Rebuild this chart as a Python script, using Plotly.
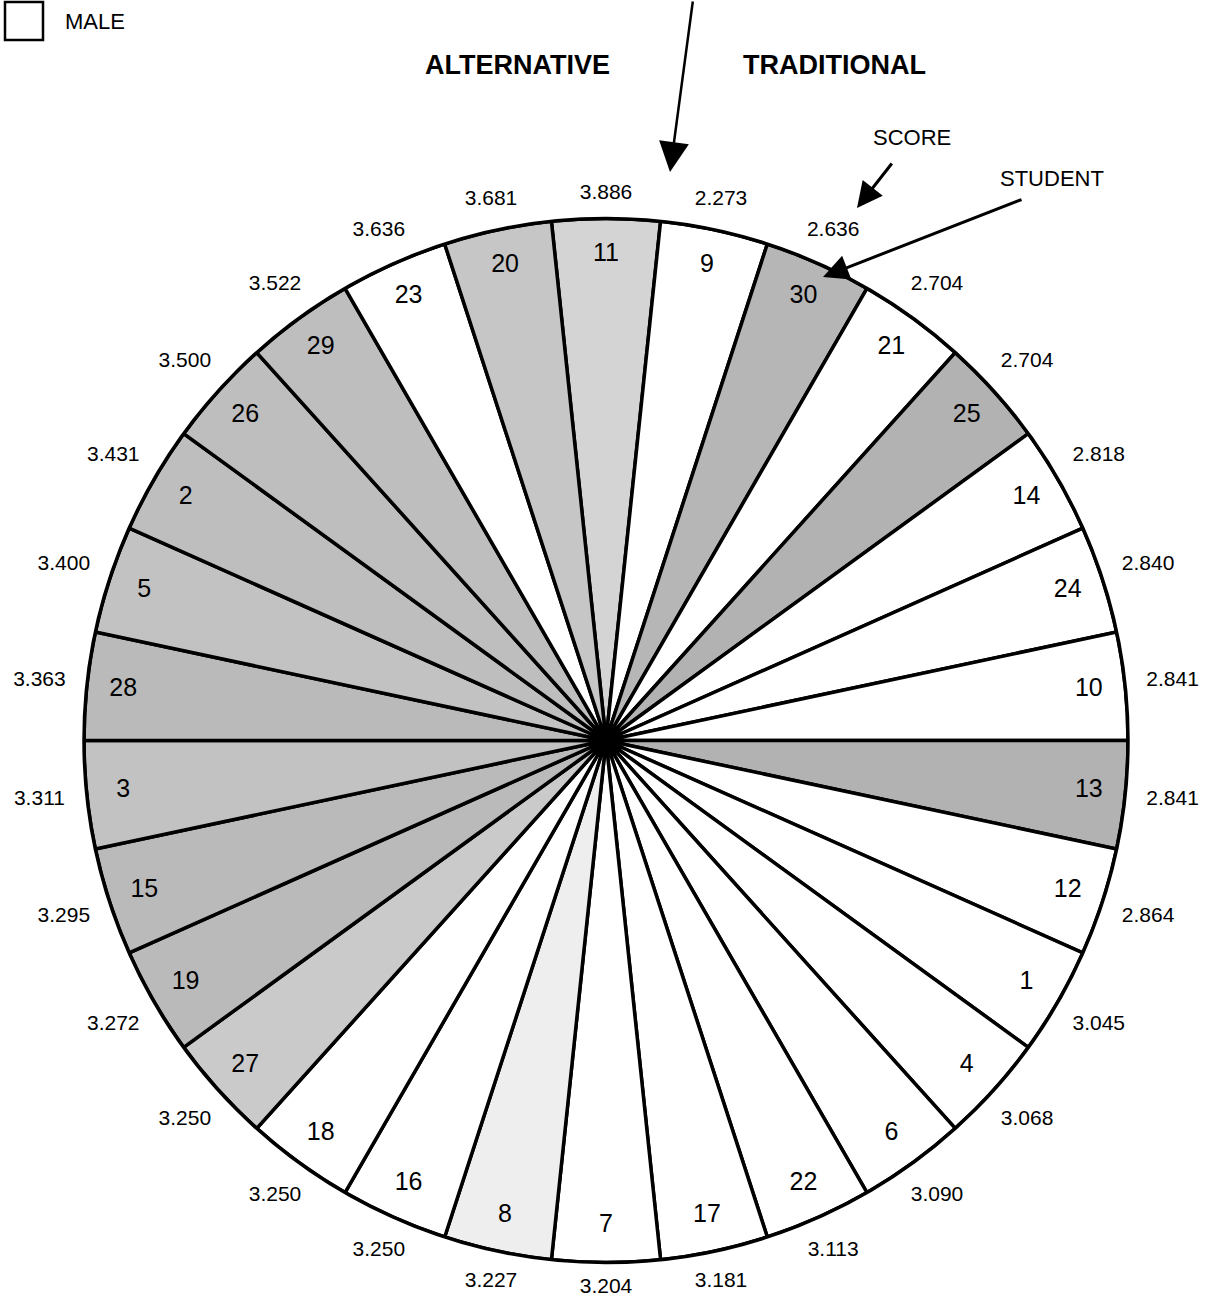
import numpy as np
import plotly.graph_objects as go

# ---- data (clockwise from the top) ----
students = [11, 9, 30, 21, 25, 14, 24, 10, 13, 12, 1, 4, 6, 22, 17,
            7, 8, 16, 18, 27, 19, 15, 3, 28, 5, 2, 26, 29, 23, 20]
scores = [3.886, 2.273, 2.636, 2.704, 2.704, 2.818, 2.840, 2.841, 2.841, 2.864,
          3.045, 3.068, 3.090, 3.113, 3.181, 3.204, 3.227, 3.250, 3.250, 3.250,
          3.272, 3.295, 3.311, 3.363, 3.400, 3.431, 3.500, 3.522, 3.636, 3.681]
gender = ["F", "M", "F", "M", "F", "M", "M", "M", "F", "M",
          "M", "M", "M", "M", "M", "M", "F", "M", "M", "F",
          "F", "F", "F", "F", "F", "F", "F", "F", "M", "F"]

# ---- style ----
W, H = 1215, 1306
FONT = "Liberation Sans, Arial, Helvetica, sans-serif"
# stipple density of each female wedge as it appears in the scan
shade = {11: "#d4d4d4", 20: "#c6c6c6", 30: "#b6b6b6", 25: "#b2b2b2", 13: "#b2b2b2",
         29: "#bebebe", 26: "#bebebe", 2: "#bebebe", 5: "#c2c2c2", 28: "#bababa",
         3: "#c2c2c2", 15: "#bababa", 19: "#bababa", 27: "#cacaca", 8: "#eeeeee"}
colors = [shade.get(s, "#c0c0c0") if g == "F" else "white" for s, g in zip(students, gender)]

cx, cy, R = 606, 740.5, 522  # circle centre / radius in pixels
dom_x = [(cx - R) / W, (cx + R) / W]
dom_y = [(H - cy - R) / H, (H - cy + R) / H]

n = len(students)
step = 360 / n
theta = [i * step for i in range(n)]

fig = go.Figure()
fig.add_trace(go.Barpolar(
    r=[1] * n, theta=theta, width=[step] * n,
    marker=dict(color=colors, line=dict(color="black", width=3.5)),
    hoverinfo="skip", showlegend=False,
))

# hub
fig.add_trace(go.Scatterpolar(
    r=[0], theta=[0], mode="markers",
    marker=dict(size=20, color="black"), hoverinfo="skip", showlegend=False,
))

# student numbers inside the wedges
fig.add_trace(go.Scatterpolar(
    r=[0.93] * n, theta=theta, mode="text",
    text=[str(s) for s in students],
    textfont=dict(family=FONT, size=25, color="black"),
    hoverinfo="skip", showlegend=False, cliponaxis=False,
))

# scores outside the circle (on an overlay cartesian frame, same scale: 1 unit = R px)
th = np.radians(theta)
r_lab = 1 + (17 + 30 * np.abs(np.sin(th)) + 8 * np.abs(np.cos(th))) / R
fig.add_trace(go.Scatter(
    x=r_lab * np.sin(th), y=r_lab * np.cos(th), mode="text",
    text=[f"{s:.3f}" for s in scores],
    textfont=dict(family=FONT, size=21, color="black"),
    hoverinfo="skip", showlegend=False, cliponaxis=False,
))

fig.update_layout(
    width=W, height=H,
    margin=dict(l=0, r=0, t=0, b=0),
    paper_bgcolor="white", plot_bgcolor="rgba(0,0,0,0)",
    xaxis=dict(domain=[0, 1], range=[-cx / R, (W - cx) / R], visible=False, fixedrange=True),
    yaxis=dict(domain=[0, 1], range=[-(H - cy) / R, cy / R], visible=False, fixedrange=True),
    polar=dict(
        domain=dict(x=dom_x, y=dom_y),
        bgcolor="white",
        radialaxis=dict(range=[0, 1], visible=False),
        angularaxis=dict(direction="clockwise", rotation=90, showgrid=False,
                         showticklabels=False, ticks="", showline=True,
                         linecolor="black", linewidth=3.5),
    ),
    font=dict(family=FONT, color="black"),
)


def px(x, y):
    return x / W, 1 - y / H


annots = []
# headings
for txt, (x, y) in [("ALTERNATIVE", (517, 65)), ("TRADITIONAL", (834, 65))]:
    ax_, ay_ = px(x, y)
    annots.append(dict(x=ax_, y=ay_, xref="paper", yref="paper", text=f"<b>{txt}</b>",
                       xanchor="center", yanchor="middle",
                       showarrow=False, font=dict(size=27, family=FONT)))
for txt, (x, y) in [("SCORE", (912, 137)), ("STUDENT", (1052, 179)), ("MALE", (95, 21))]:
    ax_, ay_ = px(x, y)
    annots.append(dict(x=ax_, y=ay_, xref="paper", yref="paper", text=txt,
                       xanchor="center", yanchor="middle",
                       showarrow=False, font=dict(size=22, family=FONT)))
# arrows (tip, tail offset in px)
for (tx, ty), (dx, dy), size, wdt in [((670, 172), (23, -180), 2.4, 2.5),
                                      ((857, 208), (36, -46), 1.7, 3),
                                      ((823, 277), (200, -78), 1.7, 3)]:
    ax_, ay_ = px(tx, ty)
    annots.append(dict(x=ax_, y=ay_, xref="paper", yref="paper", text="",
                       showarrow=True, ax=dx, ay=dy, arrowhead=2,
                       arrowsize=size, arrowwidth=wdt, arrowcolor="black"))
fig.update_layout(annotations=annots)

# legend box for MALE
x0, y1 = px(5, 2)
x1, y0 = px(43, 40)
fig.add_shape(type="rect", xref="paper", yref="paper", x0=x0, x1=x1, y0=y0, y1=y1,
              line=dict(color="black", width=2.5), fillcolor="white")

fig.write_html("out.html", config={"displayModeBar": False},
               post_script="document.body.style.margin='0px';")
